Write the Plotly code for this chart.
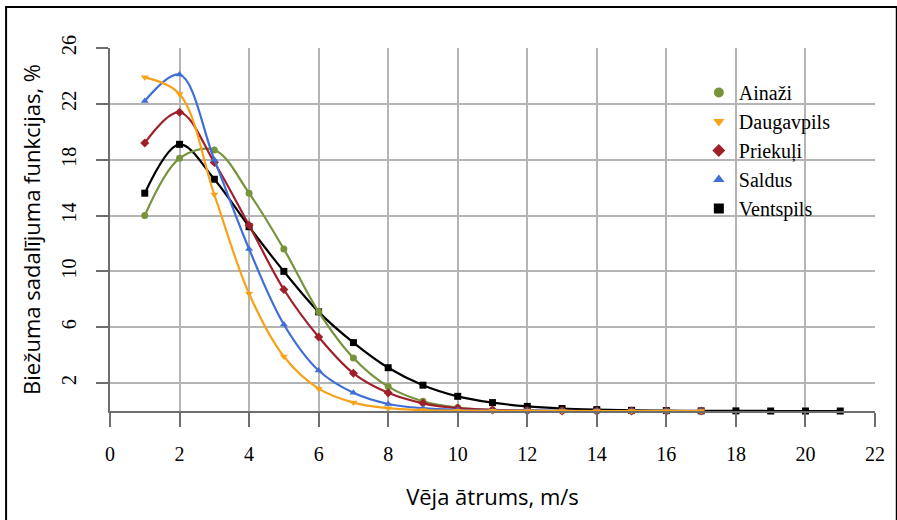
import plotly.graph_objects as go

# ---- data ----
speed = list(range(1, 18))
speed_v = list(range(1, 22))
ainazi = [14.0, 18.1, 18.7, 15.6, 11.6, 7.1, 3.8, 1.75, 0.7, 0.25, 0.08, 0.03, 0.01, 0, 0, 0, 0]
daugavpils = [23.9, 22.7, 15.5, 8.4, 3.9, 1.6, 0.6, 0.2, 0.07, 0.02, 0.01, 0, 0, 0, 0, 0, 0]
priekuli = [19.2, 21.4, 17.8, 13.3, 8.7, 5.3, 2.7, 1.3, 0.55, 0.2, 0.08, 0.03, 0.01, 0, 0, 0, 0]
saldus = [22.2, 24.1, 18.0, 11.6, 6.2, 2.9, 1.3, 0.5, 0.2, 0.07, 0.02, 0.01, 0, 0, 0, 0, 0]
ventspils = [15.6, 19.1, 16.6, 13.2, 10.0, 7.1, 4.9, 3.1, 1.85, 1.05, 0.6, 0.33, 0.18, 0.1,
             0.05, 0.03, 0.01, 0.01, 0, 0, 0]

names = ["Ainaži", "Daugavpils", "Priekuļi", "Saldus", "Ventspils"]
colors = ["#77933C", "#F7A21B", "#A0202A", "#3F6FD6", "#000000"]
symbols = ["circle", "triangle-down", "diamond", "triangle-up", "square"]
xs = [speed, speed, speed, speed, speed_v]
ys = [ainazi, daugavpils, priekuli, saldus, ventspils]

y_tickvals = [2, 6, 10, 14, 18, 22, 26]
x_tickvals = list(range(0, 23, 2))

fig = go.Figure()

draw_order = [4, 0, 2, 3, 1]
for i in draw_order:
    fig.add_trace(go.Scatter(
        x=xs[i], y=ys[i], mode="lines+markers", name=names[i], showlegend=False,
        line=dict(color=colors[i], width=2.2, shape="spline"),
        marker=dict(symbol=symbols[i], size=7, color=colors[i]),
        cliponaxis=False,
    ))

for i in range(5):
    fig.add_trace(go.Scatter(
        x=[None], y=[None], mode="markers", name=names[i],
        marker=dict(symbol=symbols[i], size=10, color=colors[i]),
    ))

L, R, T, B = 110, 14, 48, 109
W, H = 897, 520
pw, ph = W - L - R, H - T - B

def px_x(p):
    return (p - L) / pw

def px_y(p):
    return (H - B - p) / ph

fig.add_shape(type="rect", xref="paper", yref="paper",
              x0=px_x(5), x1=px_x(905), y0=px_y(530), y1=px_y(7),
              line=dict(color="black", width=2), fillcolor="rgba(0,0,0,0)", layer="below")

fig.update_layout(
    width=W, height=H,
    margin=dict(l=L, r=R, t=T, b=B),
    paper_bgcolor="white", plot_bgcolor="white",
    showlegend=True,
    legend=dict(x=px_x(705), y=px_y(73), xanchor="left", yanchor="top",
                bgcolor="rgba(0,0,0,0)", font=dict(family="Liberation Serif", size=20, color="black"),
                tracegroupgap=0, itemwidth=30),
    xaxis=dict(range=[0, 22], tickvals=x_tickvals, showgrid=True, gridcolor="#B4B4B4", gridwidth=1.5,
               showline=True, linecolor="#6E6E6E", linewidth=1.5, zeroline=False,
               ticks="outside", ticklen=14, tickcolor="#6E6E6E", tickwidth=1.5,
               ticklabelstandoff=10,
               tickfont=dict(family="Liberation Serif", size=20, color="black"),
               title=dict(text="Vēja ātrums, m/s", font=dict(family="Open Sans", size=22, color="black"),
                          standoff=26)),
    yaxis=dict(range=[0, 26], tickvals=y_tickvals, showgrid=True, gridcolor="#B4B4B4", gridwidth=1.5,
               showline=True, linecolor="#6E6E6E", linewidth=1.5, zeroline=False,
               ticks="outside", ticklen=12, tickcolor="#6E6E6E", tickwidth=1.5, tickangle=-90,
               ticklabelstandoff=12,
               tickfont=dict(family="Liberation Serif", size=20, color="black"),
               title=dict(text="Biežuma sadalījuma funkcijas, %",
                          font=dict(family="Open Sans", size=22, color="black"), standoff=12)),
)

fig.write_html("out.html")
